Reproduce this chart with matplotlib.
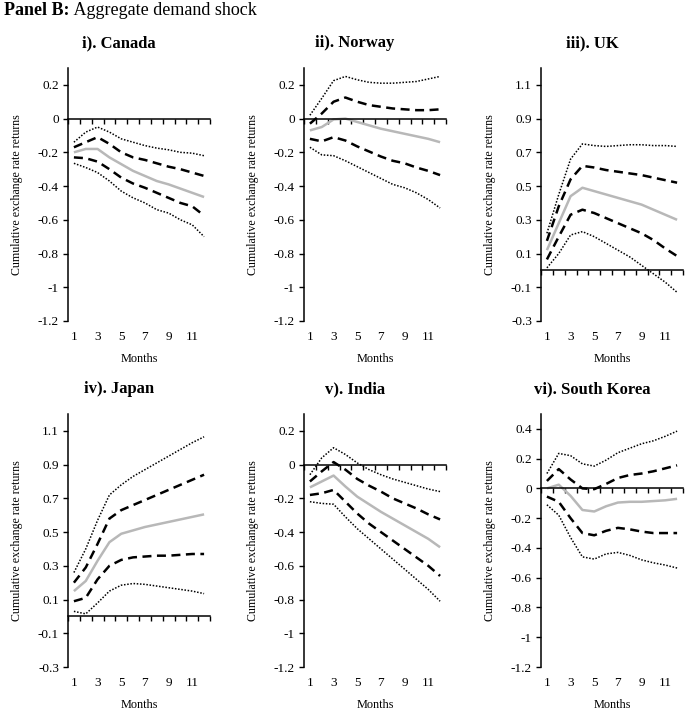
import numpy as np
import matplotlib
matplotlib.use("Agg")
import matplotlib.pyplot as plt
from matplotlib.text import Annotation

plt.rcParams['font.family'] = ['Liberation Serif', 'DejaVu Serif']

months = list(range(1, 13))

titles = ["i). Canada", "ii). Norway", "iii). UK", "iv). Japan", "v). India", "vi). South Korea"]

# ---- data: point estimate, inner band (dashed), outer band (dotted) ----
canada_mid = [-0.20, -0.18, -0.18, -0.23, -0.27, -0.31, -0.34, -0.37, -0.39, -0.415, -0.44, -0.465]
canada_hi1 = [-0.17, -0.14, -0.11, -0.15, -0.20, -0.23, -0.245, -0.265, -0.285, -0.30, -0.32, -0.34]
canada_lo1 = [-0.23, -0.235, -0.255, -0.30, -0.35, -0.385, -0.41, -0.44, -0.47, -0.50, -0.52, -0.575]
canada_hi2 = [-0.14, -0.08, -0.05, -0.08, -0.12, -0.14, -0.16, -0.175, -0.185, -0.20, -0.205, -0.22]
canada_lo2 = [-0.265, -0.29, -0.32, -0.37, -0.43, -0.47, -0.50, -0.54, -0.56, -0.60, -0.63, -0.70]

norway_mid = [-0.07, -0.05, -0.005, 0.0, -0.02, -0.04, -0.06, -0.075, -0.09, -0.105, -0.12, -0.14]
norway_hi1 = [-0.03, 0.03, 0.10, 0.125, 0.10, 0.08, 0.07, 0.06, 0.055, 0.05, 0.05, 0.055]
norway_lo1 = [-0.12, -0.135, -0.11, -0.13, -0.165, -0.195, -0.225, -0.25, -0.265, -0.29, -0.31, -0.335]
norway_hi2 = [0.02, 0.12, 0.225, 0.25, 0.23, 0.215, 0.21, 0.21, 0.215, 0.22, 0.235, 0.25]
norway_lo2 = [-0.17, -0.215, -0.22, -0.25, -0.285, -0.32, -0.355, -0.39, -0.41, -0.44, -0.48, -0.53]

uk_mid = [0.12, 0.28, 0.44, 0.49, 0.47, 0.45, 0.43, 0.41, 0.39, 0.36, 0.33, 0.30]
uk_hi1 = [0.175, 0.38, 0.54, 0.62, 0.61, 0.595, 0.585, 0.575, 0.565, 0.55, 0.535, 0.52]
uk_lo1 = [0.065, 0.20, 0.33, 0.36, 0.34, 0.31, 0.28, 0.25, 0.22, 0.18, 0.13, 0.085]
uk_hi2 = [0.22, 0.45, 0.66, 0.75, 0.74, 0.735, 0.74, 0.745, 0.745, 0.74, 0.74, 0.735]
uk_lo2 = [0.015, 0.10, 0.21, 0.23, 0.20, 0.16, 0.12, 0.08, 0.03, -0.02, -0.07, -0.13]

japan_mid = [0.15, 0.21, 0.33, 0.44, 0.49, 0.51, 0.53, 0.545, 0.56, 0.575, 0.59, 0.605]
japan_hi1 = [0.20, 0.29, 0.43, 0.58, 0.63, 0.66, 0.69, 0.72, 0.75, 0.78, 0.81, 0.84]
japan_lo1 = [0.09, 0.11, 0.22, 0.30, 0.335, 0.35, 0.355, 0.36, 0.36, 0.365, 0.37, 0.37]
japan_hi2 = [0.26, 0.40, 0.57, 0.72, 0.78, 0.83, 0.87, 0.91, 0.95, 0.99, 1.03, 1.065]
japan_lo2 = [0.03, 0.015, 0.08, 0.15, 0.185, 0.195, 0.19, 0.18, 0.17, 0.16, 0.15, 0.135]

india_mid = [-0.135, -0.10, -0.065, -0.13, -0.19, -0.235, -0.28, -0.32, -0.36, -0.40, -0.44, -0.49]
india_hi1 = [-0.10, -0.04, 0.015, -0.03, -0.085, -0.125, -0.16, -0.20, -0.23, -0.26, -0.295, -0.325]
india_lo1 = [-0.18, -0.17, -0.15, -0.22, -0.29, -0.35, -0.40, -0.45, -0.50, -0.55, -0.60, -0.66]
india_hi2 = [-0.06, 0.04, 0.10, 0.06, 0.01, -0.03, -0.06, -0.085, -0.105, -0.125, -0.145, -0.16]
india_lo2 = [-0.22, -0.23, -0.235, -0.31, -0.38, -0.44, -0.50, -0.56, -0.62, -0.68, -0.74, -0.81]

korea_mid = [0.0, 0.025, -0.05, -0.145, -0.155, -0.12, -0.095, -0.09, -0.09, -0.085, -0.08, -0.07]
korea_hi1 = [0.05, 0.13, 0.06, 0.0, -0.005, 0.03, 0.07, 0.09, 0.10, 0.115, 0.135, 0.155]
korea_lo1 = [-0.055, -0.09, -0.20, -0.30, -0.315, -0.285, -0.265, -0.275, -0.29, -0.30, -0.30, -0.30]
korea_hi2 = [0.10, 0.235, 0.22, 0.165, 0.15, 0.19, 0.24, 0.27, 0.30, 0.32, 0.35, 0.385]
korea_lo2 = [-0.11, -0.18, -0.33, -0.46, -0.475, -0.44, -0.43, -0.45, -0.48, -0.50, -0.515, -0.535]

series = [
    (canada_mid, canada_hi1, canada_lo1, canada_hi2, canada_lo2),
    (norway_mid, norway_hi1, norway_lo1, norway_hi2, norway_lo2),
    (uk_mid, uk_hi1, uk_lo1, uk_hi2, uk_lo2),
    (japan_mid, japan_hi1, japan_lo1, japan_hi2, japan_lo2),
    (india_mid, india_hi1, india_lo1, india_hi2, india_lo2),
    (korea_mid, korea_hi1, korea_lo1, korea_hi2, korea_lo2),
]

yticks_neg = [0.2, 0.0, -0.2, -0.4, -0.6, -0.8, -1.0, -1.2]
ylabels_neg = ["0.2", "0", "-0.2", "-0.4", "-0.6", "-0.8", "-1", "-1.2"]
yticks_pos = [1.1, 0.9, 0.7, 0.5, 0.3, 0.1, -0.1, -0.3]
ylabels_pos = ["1.1", "0.9", "0.7", "0.5", "0.3", "0.1", "-0.1", "-0.3"]
yticks_kor = [0.4, 0.2, 0.0, -0.2, -0.4, -0.6, -0.8, -1.0, -1.2]
ylabels_kor = ["0.4", "0.2", "0", "-0.2", "-0.4", "-0.6", "-0.8", "-1", "-1.2"]

yconf = [
    ((-1.2, 0.3), yticks_neg, ylabels_neg),
    ((-1.2, 0.3), yticks_neg, ylabels_neg),
    ((-0.3, 1.2), yticks_pos, ylabels_pos),
    ((-0.3, 1.2), yticks_pos, ylabels_pos),
    ((-1.2, 0.3), yticks_neg, ylabels_neg),
    ((-1.2, 0.5), yticks_kor, ylabels_kor),
]

xtick_labels = [1, 3, 5, 7, 9, 11]

W, H = 685, 714
fig = plt.figure(figsize=(W / 100, H / 100), dpi=100)

lefts = [68, 304, 541]
tops = [68, 414]
aw, ah = 142, 253

for i in range(6):
    r, c = divmod(i, 3)
    ax = fig.add_axes([lefts[c] / W, 1 - (tops[r] + ah) / H, aw / W, ah / H])
    mid, hi1, lo1, hi2, lo2 = series[i]
    ylim, yt, yl = yconf[i]

    ax.plot(months, hi2, color='black', lw=1.1, dashes=(1.0, 1.1))
    ax.plot(months, lo2, color='black', lw=1.1, dashes=(1.0, 1.1))
    ax.plot(months, hi1, color='black', lw=1.8, dashes=(3.6, 2.2))
    ax.plot(months, lo1, color='black', lw=1.8, dashes=(3.6, 2.2))
    ax.plot(months, mid, color='#b8b8b8', lw=1.8, solid_capstyle='butt')

    ax.set_xlim(0.5, 12.5)
    ax.set_ylim(*ylim)
    ax.set_facecolor('none')

    for s in ['top', 'right']:
        ax.spines[s].set_visible(False)
    ax.spines['bottom'].set_position(('data', 0))
    ax.spines['bottom'].set_linewidth(1.1)
    ax.spines['left'].set_linewidth(1.1)

    ax.set_xticks(np.arange(0.5, 13, 1.0))
    ax.tick_params(axis='x', direction='out', length=3.5, width=1.0, labelbottom=False)
    ax.set_yticks(yt)
    ax.set_yticklabels(yl)
    ax.tick_params(axis='y', direction='out', length=3.5, width=1.0, labelsize=9.5, pad=3)

    sec = ax.secondary_xaxis(0)
    sec.set_xticks(xtick_labels)
    sec.set_xticklabels([str(v) for v in xtick_labels])
    sec.tick_params(length=0, labelsize=9.5, pad=7)
    sec.spines['bottom'].set_visible(False)

    ax.set_ylabel("Cumulative exchange rate returns", fontsize=8.6)
    ax.yaxis.set_label_coords(-0.32, 0.5)

    ax.text(0.5, -38 / ah, "Months", transform=ax.transAxes, ha='center', va='center', fontsize=8.8)
    ax.text(0.36, 1 + 25 / ah, titles[i], transform=ax.transAxes, ha='center', va='center',
            fontsize=12, fontweight='bold')

t1 = fig.text(4 / W, 1 - 15 / H, "Panel B:", fontsize=13, fontweight='bold', va='baseline', ha='left')
ann = Annotation(" Aggregate demand shock", xy=(1, 0), xycoords=t1, va='bottom', ha='left', fontsize=13)
fig.add_artist(ann)

fig.savefig("out.png", dpi=100)
